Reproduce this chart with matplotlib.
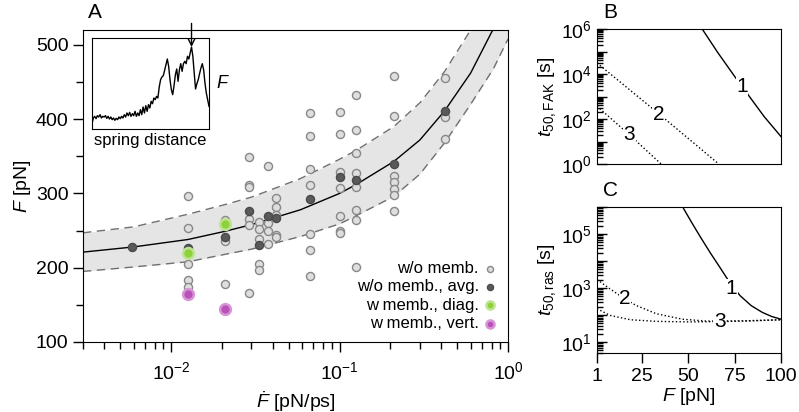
import numpy as np
import matplotlib
matplotlib.use('Agg')
import matplotlib.pyplot as plt
from matplotlib.ticker import LogLocator, FuncFormatter, MultipleLocator, NullFormatter

plt.rcParams['font.family'] = ['Liberation Sans', 'DejaVu Sans']
plt.rcParams['mathtext.fontset'] = 'custom'
plt.rcParams['mathtext.rm'] = 'Liberation Sans'
plt.rcParams['mathtext.it'] = 'Liberation Sans:italic'
plt.rcParams['mathtext.bf'] = 'Liberation Sans:bold'
plt.rcParams['font.size'] = 14

# ---- panel A data: rupture force vs loading rate ----
rate_gray = ([0.0126] * 5 + [0.0209] * 4 + [0.0292] * 6 + [0.0334] * 5 + [0.0374] * 4
             + [0.042] * 5 + [0.0671] * 7 + [0.1] * 7 + [0.1256] * 8 + [0.21] * 7 + [0.42] * 3)
force_gray = [296, 254, 205, 184, 174,
              264, 256, 236, 178,
              349, 311, 308, 265, 258, 166,
              262, 252, 239, 205, 197,
              337, 260, 249, 232,
              294, 282, 271, 244, 242,
              408, 377, 333, 311, 245, 224, 189,
              410, 380, 329, 307, 270, 249, 247,
              433, 385, 354, 327, 309, 278, 264, 201,
              458, 404, 324, 316, 306, 298, 277,
              456, 403, 373]

rate_avg = [0.00583, 0.0126, 0.0209, 0.0292, 0.0334, 0.0374, 0.042, 0.0671, 0.1, 0.1256, 0.21, 0.42]
force_avg = [228, 226, 242, 276, 231, 270, 267, 292, 322, 318, 340, 411]

rate_diag = [0.0126, 0.0209]
force_diag = [220, 259]

rate_vert = [0.0126, 0.0209]
force_vert = [165, 145]

# fit curve and its band
fit_rate = [0.003, 0.006, 0.0126, 0.0209, 0.03, 0.0586, 0.1, 0.1256, 0.21, 0.3, 0.42, 0.6, 0.82, 1.0]
fit_mid = [221, 228, 238, 249, 258, 278, 300, 312, 343, 372, 411, 462, 522, 570]
fit_hi = [247, 255, 272, 285, 295, 320, 346, 358, 390, 422, 464, 520, 585, 640]
fit_lo = [195, 201, 208, 218, 225, 242, 259, 270, 296, 326, 368, 420, 468, 508]

# inset force trace (arbitrary units)
trace = [16, 33, 38, 31, 40, 36, 43, 33, 38, 36,
         40, 32, 38, 30, 36, 28, 33, 26, 32, 28,
         36, 31, 38, 33, 43, 36, 48, 40, 50, 38,
         46, 40, 53, 38, 48, 40, 58, 43, 66, 48,
         70, 53, 73, 63, 83, 76, 93, 88, 98, 93,
         126, 148, 156, 160, 176, 193, 210, 188, 148, 118,
         103, 130, 163, 180, 143, 178, 196, 173, 196, 203,
         196, 218, 210, 228, 246, 218, 168, 120, 136, 148,
         166, 183, 196, 178, 138, 108, 88, 68]

# ---- panel B: log10 t50 FAK vs F ----
b1_F = [57.6, 66, 75, 83, 91, 100]
b1_logt = [6.0, 4.95, 3.9, 3.0, 2.1, 1.22]
b2_F = [1, 34, 66.5]
b2_logt = [4.49, 2.25, 0.0]
b3_F = [1, 18, 35.5]
b3_logt = [2.57, 1.33, 0.0]

# ---- panel C: log10 t50 ras vs F ----
c1_F = [47.1, 52, 57, 62, 67, 72, 78, 84, 90, 95, 100]
c1_logt = [6.0, 5.42, 4.85, 4.3, 3.78, 3.25, 2.72, 2.35, 2.1, 1.95, 1.85]
c2_F = [1, 8, 16, 22, 33, 47, 60, 80, 100]
c2_logt = [3.32, 2.97, 2.6, 2.36, 2.05, 1.85, 1.78, 1.79, 1.83]
c3_F = [1, 8, 19, 33, 50, 67, 85, 100]
c3_logt = [2.24, 1.99, 1.83, 1.77, 1.75, 1.76, 1.79, 1.83]

W, H = 799, 412
fig = plt.figure(figsize=(W / 100, H / 100), dpi=100)


def px_axes(left, top, right, bottom):
    return fig.add_axes([left / W, 1 - bottom / H, (right - left) / W, (bottom - top) / H])


# ---------------- panel A ----------------
ax = px_axes(83, 30, 508, 342)
ax.set_xscale('log')
ax.fill_between(fit_rate, fit_lo, fit_hi, color='#e5e5e5', lw=0, zorder=1)
ax.plot(fit_rate, fit_hi, color='#707070', lw=1, dashes=(6, 4), zorder=2)
ax.plot(fit_rate, fit_lo, color='#707070', lw=1, dashes=(6, 4), zorder=2)
ax.plot(fit_rate, fit_mid, color='black', lw=1, zorder=3)

h1 = ax.scatter(rate_gray, force_gray, s=34, facecolor='#dedede', edgecolor='#888888', lw=1, zorder=4)
h2 = ax.scatter(rate_avg, force_avg, s=34, facecolor='#5a5a5a', edgecolor='#4a4a4a', lw=1, zorder=5)
h3 = ax.scatter(rate_diag, force_diag, s=60, facecolor='#8fd13a', edgecolor='#bde393', lw=1.8, zorder=6)
h4 = ax.scatter(rate_vert, force_vert, s=60, facecolor='#b852b8', edgecolor='#d795d7', lw=1.8, zorder=6)

ax.set_xlim(0.003, 1)
ax.set_ylim(100, 520)
ax.yaxis.set_major_locator(MultipleLocator(100))
ax.yaxis.set_minor_locator(MultipleLocator(50))
ax.xaxis.set_major_locator(LogLocator(base=10, subs=(1.0,)))
ax.xaxis.set_minor_locator(LogLocator(base=10, subs=np.arange(2, 10)))
ax.xaxis.set_minor_formatter(NullFormatter())
ax.tick_params(which='major', direction='out', length=7, width=1)
ax.tick_params(which='minor', direction='out', length=5, width=1)
ax.tick_params(axis='x', which='major', pad=7)
ax.set_xlabel(r'$\dot{F}$ [pN/ps]', labelpad=4)
ax.set_ylabel(r'$F$ [pN]', labelpad=2)

leg = ax.legend([h1, h2, h3, h4],
                ['w/o memb.', 'w/o memb., avg.', 'w memb., diag.', 'w memb., vert.'],
                loc='lower right', frameon=False, markerfirst=False, fontsize=12,
                handletextpad=0.3, handlelength=0.8, labelspacing=0.2,
                borderaxespad=0.35, borderpad=0.3,
                scatterpoints=1, markerscale=0.75)

fig.text(88 / W, 1 - 13 / H, 'A', fontsize=15, va='center', ha='left')

# inset
ins = px_axes(92, 38, 209, 129)
ins.plot(np.arange(len(trace)), trace, color='black', lw=1)
ins.set_xlim(0, len(trace) - 1)
ins.set_ylim(0, 273)
ins.set_xticks([])
ins.set_yticks([])
ins.set_xlabel('spring distance', fontsize=12, labelpad=3)
ins.yaxis.set_label_position('right')
ins.set_ylabel(r'$F$', rotation=0, fontsize=13, va='center', ha='left', labelpad=5)
i_peak = int(np.argmax(trace))
ins.annotate('', xy=(i_peak, trace[i_peak]), xytext=(0, 17), textcoords='offset points',
             arrowprops=dict(arrowstyle='->', lw=1, color='black', shrinkA=0, shrinkB=0,
                             mutation_scale=12),
             annotation_clip=False)


def label_decades(shown):
    def fmt(v, pos):
        e = int(round(np.log10(v)))
        if e in shown:
            return r'$\mathdefault{10^{%d}}$' % e
        return ''
    return FuncFormatter(fmt)


def curve_label(a, F, logt, s):
    a.text(F, 10 ** logt, s, fontsize=15, ha='center', va='center',
           bbox=dict(facecolor='white', edgecolor='none', pad=0.5), zorder=5)


# ---------------- panel B ----------------
axb = px_axes(597, 29, 781, 164)
axb.set_yscale('log')
axb.plot(b1_F, 10 ** np.array(b1_logt), color='black', lw=1)
axb.plot(b2_F, 10 ** np.array(b2_logt), color='black', lw=1, ls=':')
axb.plot(b3_F, 10 ** np.array(b3_logt), color='black', lw=1, ls=':')
curve_label(axb, 79, 3.43, '1')
curve_label(axb, 34, 2.2, '2')
curve_label(axb, 18.4, 1.3, '3')
axb.set_xlim(1, 100)
axb.set_ylim(1, 1e6)
axb.yaxis.set_major_locator(LogLocator(base=10, subs=(1.0,), numticks=20))
axb.yaxis.set_minor_locator(LogLocator(base=10, subs=np.arange(2, 10), numticks=20))
axb.yaxis.set_major_formatter(label_decades([0, 2, 4, 6]))
axb.yaxis.set_minor_formatter(NullFormatter())
axb.tick_params(axis='y', which='major', direction='in', length=7, width=1)
axb.tick_params(axis='y', which='minor', direction='in', length=4, width=1)
axb.tick_params(axis='x', bottom=False, labelbottom=False)
axb.set_ylabel(r'$t_{50,\mathrm{FAK}}$ [s]', labelpad=2)
fig.text(603 / W, 1 - 13 / H, 'B', fontsize=15, va='center', ha='left')

# ---------------- panel C ----------------
axc = px_axes(597, 207, 781, 353)
axc.set_yscale('log')
axc.plot(c1_F, 10 ** np.array(c1_logt), color='black', lw=1)
axc.plot(c2_F, 10 ** np.array(c2_logt), color='black', lw=1, ls=':')
axc.plot(c3_F, 10 ** np.array(c3_logt), color='black', lw=1, ls=':')
curve_label(axc, 73.4, 2.97, '1')
curve_label(axc, 16, 2.6, '2')
curve_label(axc, 67, 1.75, '3')
axc.set_xlim(1, 100)
axc.set_ylim(10 ** 0.6, 1e6)
axc.set_xticks([1, 25, 50, 75, 100])
axc.yaxis.set_major_locator(LogLocator(base=10, subs=(1.0,), numticks=20))
axc.yaxis.set_minor_locator(LogLocator(base=10, subs=np.arange(2, 10), numticks=20))
axc.yaxis.set_major_formatter(label_decades([1, 3, 5]))
axc.yaxis.set_minor_formatter(NullFormatter())
axc.tick_params(axis='y', which='major', direction='in', length=7, width=1)
axc.tick_params(axis='y', which='minor', direction='in', length=4, width=1)
axc.tick_params(axis='x', direction='out', length=7, width=1)
axc.set_xlabel(r'$F$ [pN]', labelpad=1)
axc.set_ylabel(r'$t_{50,\mathrm{ras}}$ [s]', labelpad=2)
fig.text(603 / W, 1 - 190 / H, 'C', fontsize=15, va='center', ha='left')

fig.savefig('out.png', dpi=100)
